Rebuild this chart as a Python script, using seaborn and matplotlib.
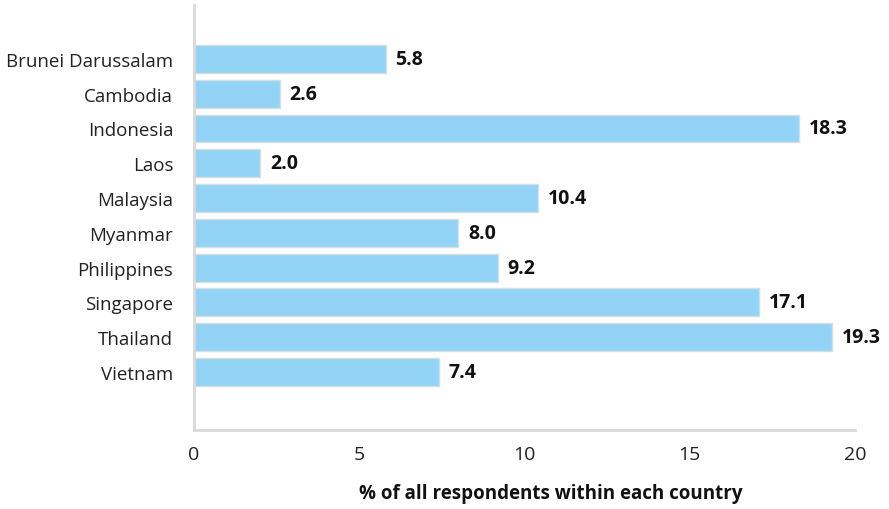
import matplotlib
matplotlib.use("Agg")
import matplotlib.pyplot as plt
import seaborn as sns
import pandas as pd

countries = ["Brunei Darussalam", "Cambodia", "Indonesia", "Laos", "Malaysia",
             "Myanmar", "Philippines", "Singapore", "Thailand", "Vietnam"]
values = [5.8, 2.6, 18.3, 2.0, 10.4, 8.0, 9.2, 17.1, 19.3, 7.4]
xticks = [0, 5, 10, 15, 20]
xlabel = "% of all respondents within each country"

sns.set_theme(style="white")
plt.rcParams['font.family'] = ['Open Sans', 'DejaVu Sans']

df = pd.DataFrame({"country": countries, "value": values})

fig = plt.figure(figsize=(8.89, 5.10), dpi=100)
ax = fig.add_axes([0.2182, 0.1549, 0.7436, 0.8333])
sns.barplot(data=df, x="value", y="country", orient="h", color="#93d4f6",
            saturation=1, width=0.8, edgecolor="#d8dde0", linewidth=1, ax=ax)

for i, v in enumerate(values):
    ax.annotate(f"{v:.1f}", (v, i), xytext=(7, 0), textcoords="offset points",
                ha="left", va="center", fontsize=14, fontweight="bold", color="#111111")

ax.set_xlim(0, 20)
ax.set_ylim(10.67, -1.55)
ax.set_xticks(xticks)
ax.set_xticklabels([str(t) for t in xticks], fontsize=14, color="#222222")
ax.tick_params(axis="x", direction="in", length=6, color="#cccccc", width=1.5, pad=11)
ax.tick_params(axis="y", length=0, labelsize=13.5, labelcolor="#222222", pad=15)
ax.set_ylabel("")
ax.set_xlabel(xlabel, fontsize=13.5, fontweight="bold", color="#111111")
ax.xaxis.set_label_coords(0.54, -0.148)
ax.xaxis.label.set_va("center")
for s in ["top", "right"]:
    ax.spines[s].set_visible(False)
for s in ["left", "bottom"]:
    ax.spines[s].set_color("#d9d9d9")
    ax.spines[s].set_linewidth(2)

fig.savefig("out.png", dpi=100)
